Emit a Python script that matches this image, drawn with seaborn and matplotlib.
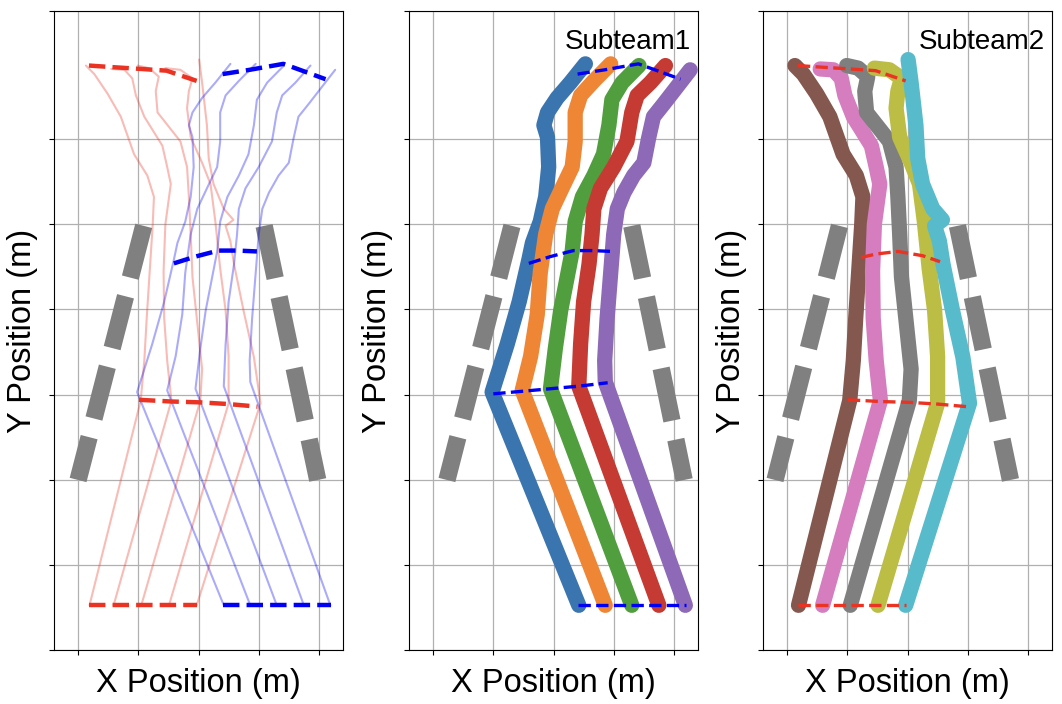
import numpy as np
import pandas as pd
import matplotlib
matplotlib.use("Agg")
import matplotlib.pyplot as plt
import seaborn as sns

plt.rcParams['font.family'] = ['Liberation Sans', 'DejaVu Sans']

# subteam1 (blue team) trajectories, one list per robot
blue_x = [
    [0.42, -1.02, -0.77, -0.57, -0.41, -0.35, -0.22, -0.13, -0.08, -0.10, -0.16, -0.10, 0.06, 0.28, 0.53],
    [0.86, -0.52, -0.38, -0.27, -0.22, -0.13, -0.02, 0.14, 0.31, 0.36, 0.36, 0.45, 0.67, 0.95],
    [1.30, -0.05, 0.03, 0.12, 0.20, 0.31, 0.36, 0.48, 0.67, 0.83, 0.92, 0.97, 1.14, 1.42],
    [1.75, 0.42, 0.45, 0.50, 0.59, 0.64, 0.67, 0.78, 1.00, 1.22, 1.30, 1.39, 1.61, 1.86],
    [2.19, 0.86, 0.85, 0.89, 0.95, 1.00, 1.06, 1.17, 1.33, 1.50, 1.58, 1.66, 1.83, 2.05, 2.27],
]
blue_y = [
    [0.53, 3.03, 3.59, 4.09, 4.58, 4.78, 5.03, 5.32, 5.67, 6.02, 6.16, 6.31, 6.48, 6.66, 6.88],
    [0.53, 3.05, 3.45, 3.94, 4.43, 4.88, 5.18, 5.42, 5.67, 5.97, 6.31, 6.51, 6.68, 6.88],
    [0.53, 3.07, 3.54, 3.99, 4.28, 4.68, 5.03, 5.32, 5.57, 5.82, 6.16, 6.46, 6.66, 6.86],
    [0.53, 3.10, 3.59, 4.09, 4.53, 4.88, 5.18, 5.42, 5.67, 5.97, 6.31, 6.51, 6.66, 6.86],
    [0.53, 3.15, 3.40, 3.89, 4.43, 4.88, 5.18, 5.37, 5.57, 5.72, 6.01, 6.26, 6.41, 6.61, 6.81],
]

# subteam2 (red team) trajectories
red_x = [
    [-1.81, -0.96, -0.90, -0.86, -0.81, -0.76, -0.74, -0.85, -1.07, -1.29, -1.51, -1.73, -1.87],
    [-1.41, -0.45, -0.52, -0.57, -0.58, -0.55, -0.46, -0.52, -0.60, -0.90, -1.04, -1.10, -1.23, -1.45],
    [-0.95, 0.03, 0.06, -0.02, -0.10, -0.13, -0.16, -0.19, -0.30, -0.68, -0.71, -0.66, -0.82, -1.01],
    [-0.49, 0.50, 0.50, 0.45, 0.36, 0.28, 0.20, 0.06, -0.13, -0.19, -0.16, -0.10, -0.30, -0.55],
    [-0.03, 1.03, 0.92, 0.75, 0.59, 0.53, 0.45, 0.58, 0.42, 0.25, 0.17, 0.14, 0.06, 0.01],
]
red_y = [
    [0.53, 2.93, 3.40, 3.90, 4.45, 5.00, 5.32, 5.57, 5.82, 6.26, 6.53, 6.76, 6.86],
    [0.53, 2.93, 3.40, 3.90, 4.45, 5.00, 5.47, 5.67, 5.92, 6.26, 6.51, 6.71, 6.81, 6.82],
    [0.53, 2.93, 3.30, 3.84, 4.38, 4.88, 5.32, 5.67, 5.97, 6.31, 6.56, 6.73, 6.83, 6.86],
    [0.53, 2.90, 3.45, 3.99, 4.48, 5.03, 5.47, 5.72, 6.02, 6.36, 6.56, 6.71, 6.81, 6.83],
    [0.53, 2.90, 3.44, 3.98, 4.53, 4.80, 4.98, 5.05, 5.18, 5.47, 5.77, 6.16, 6.66, 6.93],
]

# formation snapshots: bottom, lower middle, upper middle, top
blue_form_x = [
    [0.41, 0.85, 1.30, 1.75, 2.20],
    [-1.00, -0.52, -0.05, 0.42, 0.90],
    [-0.41, -0.05, 0.33, 0.65, 0.97],
    [0.40, 0.85, 1.41, 1.80, 2.11],
]
blue_form_y = [
    [0.53, 0.53, 0.53, 0.53, 0.53],
    [3.01, 3.04, 3.07, 3.10, 3.14],
    [4.54, 4.62, 4.69, 4.69, 4.68],
    [6.76, 6.81, 6.88, 6.78, 6.70],
]
red_form_x = [
    [-1.82, -1.41, -0.95, -0.49, -0.03],
    [-0.99, -0.45, 0.03, 0.50, 0.98],
    [-0.77, -0.52, -0.16, 0.25, 0.54],
    [-1.82, -1.40, -0.95, -0.53, -0.03],
]
red_form_y = [
    [0.53, 0.53, 0.53, 0.53, 0.53],
    [2.94, 2.92, 2.91, 2.89, 2.86],
    [4.61, 4.65, 4.68, 4.63, 4.56],
    [6.86, 6.84, 6.82, 6.80, 6.68],
]

# corridor walls (top x, bottom x) per panel
wall_y = [4.98, 2.0]
wall_left = [[-0.91, -2.00], [-0.69, -1.77], [-1.13, -2.20]]
wall_right = [[1.09, 1.98], [1.30, 2.17], [0.83, 1.71]]

team1_colors = ['#3b75af', '#ef8636', '#519e3e', '#c53a32', '#8d69b8']
team2_colors = ['#84584e', '#d57dbf', '#7f7f7f', '#bcbd45', '#58bbcc']
RED = '#ea3323'
BLUE = '#0000f5'

fig = plt.figure(figsize=(10.62, 7.04), dpi=100)
lefts = [54 / 1062, 409 / 1062, 763 / 1062]
axes = [fig.add_axes([l, 0.076, 289 / 1062, 0.9084]) for l in lefts]


def draw_walls(ax, i):
    for wx in (wall_left[i], wall_right[i]):
        ax.plot(wx, wall_y, color='gray', lw=12.5, dashes=(3.08, 1.11), zorder=2)


def draw_team(ax, xs, ys, colors, lw, alpha=1.0):
    for k in range(len(xs)):
        df = pd.DataFrame({'x': xs[k], 'y': ys[k]})
        sns.lineplot(data=df, x='x', y='y', sort=False, estimator=None, ax=ax,
                     color=colors[k], lw=lw, alpha=alpha,
                     solid_capstyle='round', solid_joinstyle='round', zorder=3)


# panel 1: both teams, faint
ax = axes[0]
draw_walls(ax, 0)
draw_team(ax, red_x, red_y, [RED] * 5, 1.5, alpha=0.33)
draw_team(ax, blue_x, blue_y, [BLUE] * 5, 1.5, alpha=0.33)
for j in [0, 1, 3]:
    ax.plot(red_form_x[j], red_form_y[j], '--', color=RED, lw=3.2, zorder=5)
for j in [0, 2, 3]:
    ax.plot(blue_form_x[j], blue_form_y[j], '--', color=BLUE, lw=3.2, zorder=5)

# panel 2: subteam1
ax = axes[1]
draw_walls(ax, 1)
draw_team(ax, blue_x, blue_y, team1_colors, 11)
for j in range(4):
    ax.plot(blue_form_x[j], blue_form_y[j], '--', color=BLUE, lw=2.4, zorder=5)
ax.text(0.975, 0.972, 'Subteam1', transform=ax.transAxes, ha='right', va='top', fontsize=20)

# panel 3: subteam2
ax = axes[2]
draw_walls(ax, 2)
draw_team(ax, red_x, red_y, team2_colors, 11)
for j in range(4):
    ax.plot(red_form_x[j], red_form_y[j], '--', color=RED, lw=2.4, zorder=5)
ax.text(0.975, 0.972, 'Subteam2', transform=ax.transAxes, ha='right', va='top', fontsize=20)

for ax in axes:
    ax.set_xlim(-2.4, 2.4)
    ax.set_ylim(0, 7.5)
    ax.set_xticks([-2, -1, 0, 1, 2])
    ax.set_yticks([0, 1, 2, 3, 4, 5, 6, 7.5])
    ax.tick_params(labelleft=False, labelbottom=False)
    ax.grid(True, color='#b0b0b0', lw=0.9)
    ax.set_axisbelow(True)
    ax.set_xlabel('X Position (m)', fontsize=23.5, labelpad=9)
    ax.set_ylabel('Y Position (m)', fontsize=23.5, labelpad=8)

fig.savefig('out.png', dpi=100)
